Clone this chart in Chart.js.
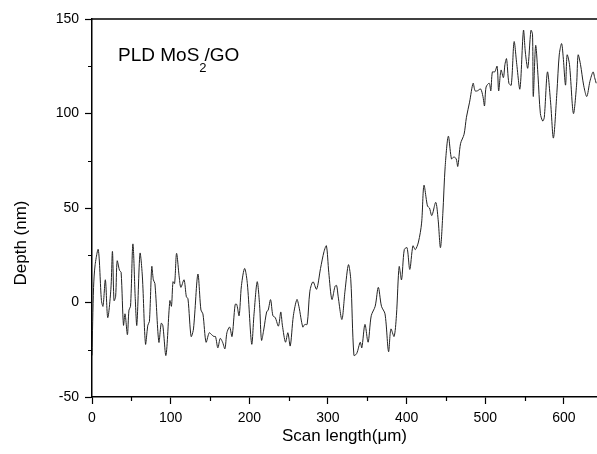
<!DOCTYPE html>
<html>
<head>
<meta charset="utf-8">
<script src="https://cdn.jsdelivr.net/npm/chart.js@4/dist/chart.umd.min.js"></script>
<style>
  html, body { margin: 0; padding: 0; background: #fff; }
  #wrap { width: 597px; height: 454px; position: relative; }
</style>
</head>
<body>
<div id="wrap"><canvas id="profil"></canvas></div>
<script>
// profil de rayure
const scanX = [0, 2, 4, 8, 12, 14, 17, 20, 24, 26, 28, 30, 32, 35, 37, 40, 42, 45, 47, 49,
  52, 55, 57, 61, 64, 68, 71, 73, 76, 78, 80, 85, 88, 90, 94, 99, 101, 103, 105, 107.5,
  111, 113, 117, 120, 122, 126, 129, 134.6, 138.5, 141, 145, 149, 152, 155, 157, 160, 163, 166, 169, 171.5,
  175, 178, 182, 184, 187, 190, 194, 197.5, 203, 206, 210, 213, 215.5, 218.5, 222, 224, 227, 230, 233, 237,
  240, 242, 246, 249, 252, 256, 260.5, 263, 268, 270.5, 273.5, 277, 281, 285.5, 290.5, 295, 298, 301, 305, 309,
  311, 313, 317.7, 321.6, 326, 329, 333, 336.5, 341, 343, 347, 351, 355, 360, 364, 368, 372.5, 377, 380, 384,
  387, 390.5, 393.5, 397, 400.5, 404, 408, 411, 415, 419, 422, 426.5, 429, 432, 437, 440, 443, 446, 449, 453,
  457, 460, 463, 465, 468.5, 473, 476, 480, 484.5, 487, 490, 494, 497, 499, 501, 505, 507, 509, 512, 515,
  517, 520, 523, 525, 527, 530, 533, 536.6, 540, 544, 548.5, 551, 554, 558, 560, 561, 564, 567, 570, 573,
  575, 579, 583, 586.6, 591, 594, 597, 599, 602, 604, 607, 612, 616, 618, 621, 625, 629, 633, 637, 639, 641];
const depth = [-28, 8, 20, 28, 1, -2, 12, -8, 7, 27, 1, 3, 22, 17, 16, -12, -6, -17, -4, -2,
  31, 2, -12, 26, 14, -22, -12, -10, 19, 12, 10, -21, -11, -12, -28, 1, -2, 11, 10, 26,
  13, 8, 12, 3, 2, -18, -14, 15, -4, -6, -21, -16, -17, -18, -18, -24, -19, -21, -24.5, -16,
  -13, -18, -1, -1, -7, 9, 18, 10, -22, -6, 11, -1, -20, -14, -5, -4, 1.5, -7, -8, -12.5,
  -5, -12, -21, -16, -23, -7, 1.6, -2, -13, -11.6, -11.6, 6, 11, 7, 18, 27, 30, 16, 1.6, 8.6,
  9, 3, -9, 6, 20, 12, -28, -27, -21, -24, -11.6, -21, -7, -2, 8, -2, -6, -26, -14, -18,
  -7, 19, 12, 28, 29, 17.5, 30, 28, 32, 42, 62, 51, 50, 46, 53, 44, 29, 47, 72, 88,
  76, 77, 76, 72, 84, 89, 98, 106, 116, 112, 112, 113, 109, 104, 114, 116, 112, 122, 122, 125,
  112, 123, 119, 126, 129, 116, 115, 138, 126, 113, 144, 132, 124, 144, 142, 109, 136, 120, 100, 96,
  98, 122, 106, 87, 111, 131, 137, 130, 115, 131, 126, 100, 115, 131, 126, 115, 109, 117, 122, 119, 116];

const yTicks = [-50, 0, 50, 100, 150];
const xMinorTicks = [50, 150, 250, 350, 450, 550];
const yMinorTicks = [-25, 25, 75, 125];

const POLICE = 'Arial, "Liberation Sans", sans-serif';

// dessine le cadre, les petites graduations et les textes
const cadrePlugin = {
    id: 'cadre',
    afterDraw(chart) {
        const ctx = chart.ctx;
        const a = chart.chartArea;
        const sx = chart.scales.x;
        const sy = chart.scales.y;
        ctx.save();
        ctx.strokeStyle = '#000';
        ctx.lineWidth = 1.5;
        ctx.beginPath();
        ctx.moveTo(a.left, a.top);
        ctx.lineTo(a.right, a.top);
        ctx.stroke();

        // petites graduations
        ctx.lineWidth = 1.2;
        ctx.beginPath();
        xMinorTicks.forEach(v => {
            const px = Math.round(sx.getPixelForValue(v)) + 0.5;
            ctx.moveTo(px, a.bottom);
            ctx.lineTo(px, a.bottom + 4);
        });
        yMinorTicks.forEach(v => {
            const py = Math.round(sy.getPixelForValue(v)) + 0.5;
            ctx.moveTo(a.left, py);
            ctx.lineTo(a.left - 4, py);
        });
        ctx.stroke();

        // titres des axes
        ctx.fillStyle = '#000';
        ctx.font = '17px ' + POLICE;
        ctx.textAlign = 'center';
        ctx.textBaseline = 'alphabetic';
        ctx.fillText('Scan length(\u03bcm)', (a.left + a.right) / 2, 441);
        ctx.save();
        ctx.translate(26, 243);
        ctx.rotate(-Math.PI / 2);
        ctx.fillText('Depth (nm)', 0, 0);
        ctx.restore();

        // annotation avec indice
        ctx.textAlign = 'left';
        ctx.font = '19px ' + POLICE;
        let x0 = 118;
        const base = 61;
        ctx.fillText('PLD MoS', x0, base);
        x0 += ctx.measureText('PLD MoS').width;
        ctx.font = '13px ' + POLICE;
        ctx.fillText('2', x0, base + 11);
        x0 += ctx.measureText('2').width - 2;
        ctx.font = '19px ' + POLICE;
        ctx.fillText('/GO', x0, base);
        ctx.restore();
    }
};

new Chart(document.getElementById('profil'), {
    type: 'line',
    data: {
        datasets: [{
            label: 'PLD MoS2/GO',
            data: scanX.map((x, i) => ({ x: x, y: depth[i] })),
            borderColor: '#222',
            borderWidth: 1,
            pointRadius: 0,
            tension: 0.3,
            fill: false,
        }]
    },
    options: {
        responsive: true,
        maintainAspectRatio: false,
        animation: false,
        layout: { padding: { top: 19, right: 0, left: 0, bottom: 0 } },
        plugins: {
            legend: { display: false },
            tooltip: { enabled: false },
        },
        scales: {
            x: {
                type: 'linear',
                min: 0,
                max: 642,
                afterFit(scale) { scale.height = 57; },
                border: { display: true, color: '#000', width: 1.5 },
                grid: { drawOnChartArea: false, drawTicks: true, tickLength: 7, color: '#000', tickWidth: 1.2 },
                ticks: {
                    stepSize: 100,
                    includeBounds: false,
                    color: '#000',
                    padding: 6,
                    maxRotation: 0,
                    font: { family: POLICE, size: 14 },
                },
            },
            y: {
                type: 'linear',
                min: -50,
                max: 150,
                afterFit(scale) { scale.width = 92; },
                afterBuildTicks(scale) { scale.ticks = yTicks.map(v => ({ value: v })); },
                border: { display: true, color: '#000', width: 1.5 },
                grid: { drawOnChartArea: false, drawTicks: true, tickLength: 7, color: '#000', tickWidth: 1.2 },
                ticks: {
                    color: '#000',
                    padding: 6,
                    font: { family: POLICE, size: 14 },
                },
            },
        },
    },
    plugins: [cadrePlugin],
});
</script>
</body>
</html>
